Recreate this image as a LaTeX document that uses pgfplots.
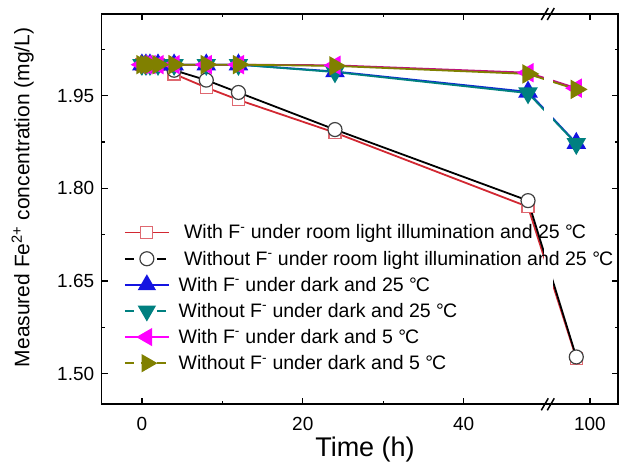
\documentclass[border=0pt]{standalone}
\usepackage{fontspec}
\setmainfont{Liberation Sans}
\usepackage{pgfplots}
\pgfplotsset{compat=1.18}
\usepackage{pgfplotstable}
\usetikzlibrary{calc}

\definecolor{cred}{RGB}{210,40,50}
\definecolor{cblue}{RGB}{20,20,225}
\definecolor{cteal}{RGB}{0,128,128}
\definecolor{cmag}{RGB}{255,0,255}
\definecolor{colive}{RGB}{128,128,0}

% time (h) and measured Fe2+ (mg/L)
\pgfplotstableread{
t y
0 2.000
0.5 2.000
1 2.000
2 2.000
4 1.985
8 1.963
12 1.943
24 1.890
48 1.770
96 1.525
}\redlight
\pgfplotstableread{
t y
0 2.000
0.5 2.000
1 2.000
2 2.000
4 1.991
8 1.975
12 1.955
24 1.895
48 1.780
96 1.527
}\blacklight
\pgfplotstableread{
t y
0 2.000
0.5 2.000
1 2.000
2 2.000
4 2.000
8 2.000
12 2.000
24 1.989
48 1.956
96 1.873
}\bluedark
\pgfplotstableread{
t y
0 2.000
0.5 2.000
1 2.000
2 2.000
4 2.000
8 2.000
12 2.000
24 1.988
48 1.954
96 1.872
}\tealdark
\pgfplotstableread{
t y
0 2.000
0.5 2.000
1 2.000
2 2.000
4 2.000
8 2.000
12 2.000
24 1.999
48 1.987
96 1.962
}\magcold
\pgfplotstableread{
t y
0 2.000
0.5 2.000
1 2.000
2 2.000
4 2.000
8 2.000
12 2.000
24 1.998
48 1.985
96 1.960
}\olivecold

\begin{document}
\begin{tikzpicture}
\begin{axis}[
  scale only axis,
  width=516.3bp, height=390.3bp,
  xmin=-5, xmax=108.2,
  ymin=1.4504, ymax=2.082,
  x coord trafo/.code={%
    \begingroup\pgfkeys{/pgf/fpu=false}%
    \pgfmathparse{#1>50 ? 55.7-(100-#1)*0.425 : #1}%
    \global\let\mytrafores\pgfmathresult\endgroup
    \let\pgfmathresult\mytrafores},
  x coord inv trafo/.code={\def\pgfmathresult{#1}},
  xtick={0,20,40,100},
  xticklabels={0,20,40,100},
  minor xtick={10,30},
  ytick={1.50,1.65,1.80,1.95},
  minor ytick={1.575,1.725,1.875,2.025},
  yticklabel style={/pgf/number format/fixed, /pgf/number format/fixed zerofill, /pgf/number format/precision=2, xshift=-4bp},
  /pgf/number format/assume math mode=true,
  tick align=inside,
  major tick length=6bp, minor tick length=3.5bp,
  every tick/.style={black, line width=1.3bp},
  axis line style={line width=1.6bp},
  tick label style={font=\fontsize{19bp}{22bp}\selectfont},
  xticklabel style={yshift=-9bp},
  axis on top,
  xlabel={Time (h)},
  ylabel={Measured Fe\textsuperscript{2+} concentration (mg/L)},
  every axis x label/.style={at={(rel axis cs:0.51,0)}, yshift=-45bp, anchor=center, font=\fontsize{27bp}{30bp}\selectfont},
  every axis y label/.style={at={(rel axis cs:0,0.53)}, xshift=-79bp, rotate=90, anchor=center, font=\fontsize{21bp}{24bp}\selectfont},
  legend style={at={(rel axis cs:0.041,0.468)}, anchor=north west, draw=none, fill=none,
    font=\fontsize{19.5bp}{22bp}\selectfont, row sep=6.5bp, inner sep=1bp,
    /tikz/every odd column/.append style={column sep=7bp}},
  legend cell align=left,
  legend image code/.code={\draw[mark repeat=2,mark phase=2,#1] plot coordinates {(0bp,0bp) (22bp,0bp) (44bp,0bp)};},
]
\addplot[cred, line width=1.8bp, mark=square*, mark size=6bp, mark options={solid, fill=white, draw=cred!70, line width=1.2bp}, forget plot] table[x=t,y=y] {\redlight};
\addplot[black, line width=1.8bp, mark=*, mark size=7bp, mark options={solid, fill=white, draw=black!75, line width=1.2bp}, forget plot] table[x=t,y=y] {\blacklight};
\addplot[cblue!80!cteal, line width=1.8bp, mark=triangle*, mark size=9.5bp, mark options={solid, fill=cblue, draw=cblue}, forget plot] table[x=t,y=y] {\bluedark};
\addplot[cteal, line width=1.8bp, mark=triangle*, mark size=9.5bp, mark options={solid, fill=cteal, draw=cteal, rotate=180}, forget plot] table[x=t,y=y] {\tealdark};
\addplot[cmag!70!black!60!cred, line width=1.8bp, mark=triangle*, mark size=9.5bp, mark options={solid, fill=cmag, draw=cmag, rotate=90}, forget plot] table[x=t,y=y] {\magcold};
\addplot[colive, line width=1.8bp, mark=triangle*, mark size=9.5bp, mark options={solid, fill=colive, draw=colive, rotate=-90}, forget plot] table[x=t,y=y] {\olivecold};

\fill[white] (rel axis cs:0.856,0.004) rectangle (rel axis cs:0.874,0.996);

\addlegendimage{cred, line width=1.6bp, mark=square*, mark size=6bp, mark options={solid, fill=white, draw=cred!70, line width=1.2bp}}
\addlegendentry{\ With F\textsuperscript{-} under room light illumination and 25 °\kern-0.05em C}
\addlegendimage{black, line width=1.6bp, dash pattern=on 9bp off 7bp, mark=*, mark size=7bp, mark options={solid, fill=white, draw=black!75, line width=1.2bp}}
\addlegendentry{\ Without F\textsuperscript{-} under room light illumination and 25 °\kern-0.05em C}
\addlegendimage{cblue, line width=1.6bp, mark=triangle*, mark size=9bp, mark options={solid, fill=cblue, draw=cblue}}
\addlegendentry{With F\textsuperscript{-} under dark and 25 °\kern-0.05em C}
\addlegendimage{cteal, line width=1.6bp, dash pattern=on 9bp off 7bp, mark=triangle*, mark size=9bp, mark options={solid, fill=cteal, draw=cteal, rotate=180}}
\addlegendentry{Without F\textsuperscript{-} under dark and 25 °\kern-0.05em C}
\addlegendimage{cmag, line width=1.6bp, mark=triangle*, mark size=9bp, mark options={solid, fill=cmag, draw=cmag, rotate=90}}
\addlegendentry{With F\textsuperscript{-} under dark and 5 °\kern-0.05em C}
\addlegendimage{colive, line width=1.6bp, dash pattern=on 9bp off 7bp, mark=triangle*, mark size=9bp, mark options={solid, fill=colive, draw=colive, rotate=-90}}
\addlegendentry{Without F\textsuperscript{-} under dark and 5 °\kern-0.05em C}

\coordinate (bl) at (rel axis cs:0,0);
\coordinate (tr) at (rel axis cs:1,1);
\coordinate (bb) at (rel axis cs:0.864,0);
\coordinate (bt) at (rel axis cs:0.864,1);
\end{axis}
\foreach \c in {bb,bt} {
  \draw[line width=1.5bp] ($(\c)+(-6.5bp,-6bp)$) -- ++(7bp,12bp);
  \draw[line width=1.5bp] ($(\c)+(-0.5bp,-6bp)$) -- ++(7bp,12bp);
}
\pgfresetboundingbox
\path[use as bounding box] ($(bl)+(-101.7bp,-64.7bp)$) rectangle ($(tr)+(1bp,14bp)$);
\end{tikzpicture}
\end{document}
